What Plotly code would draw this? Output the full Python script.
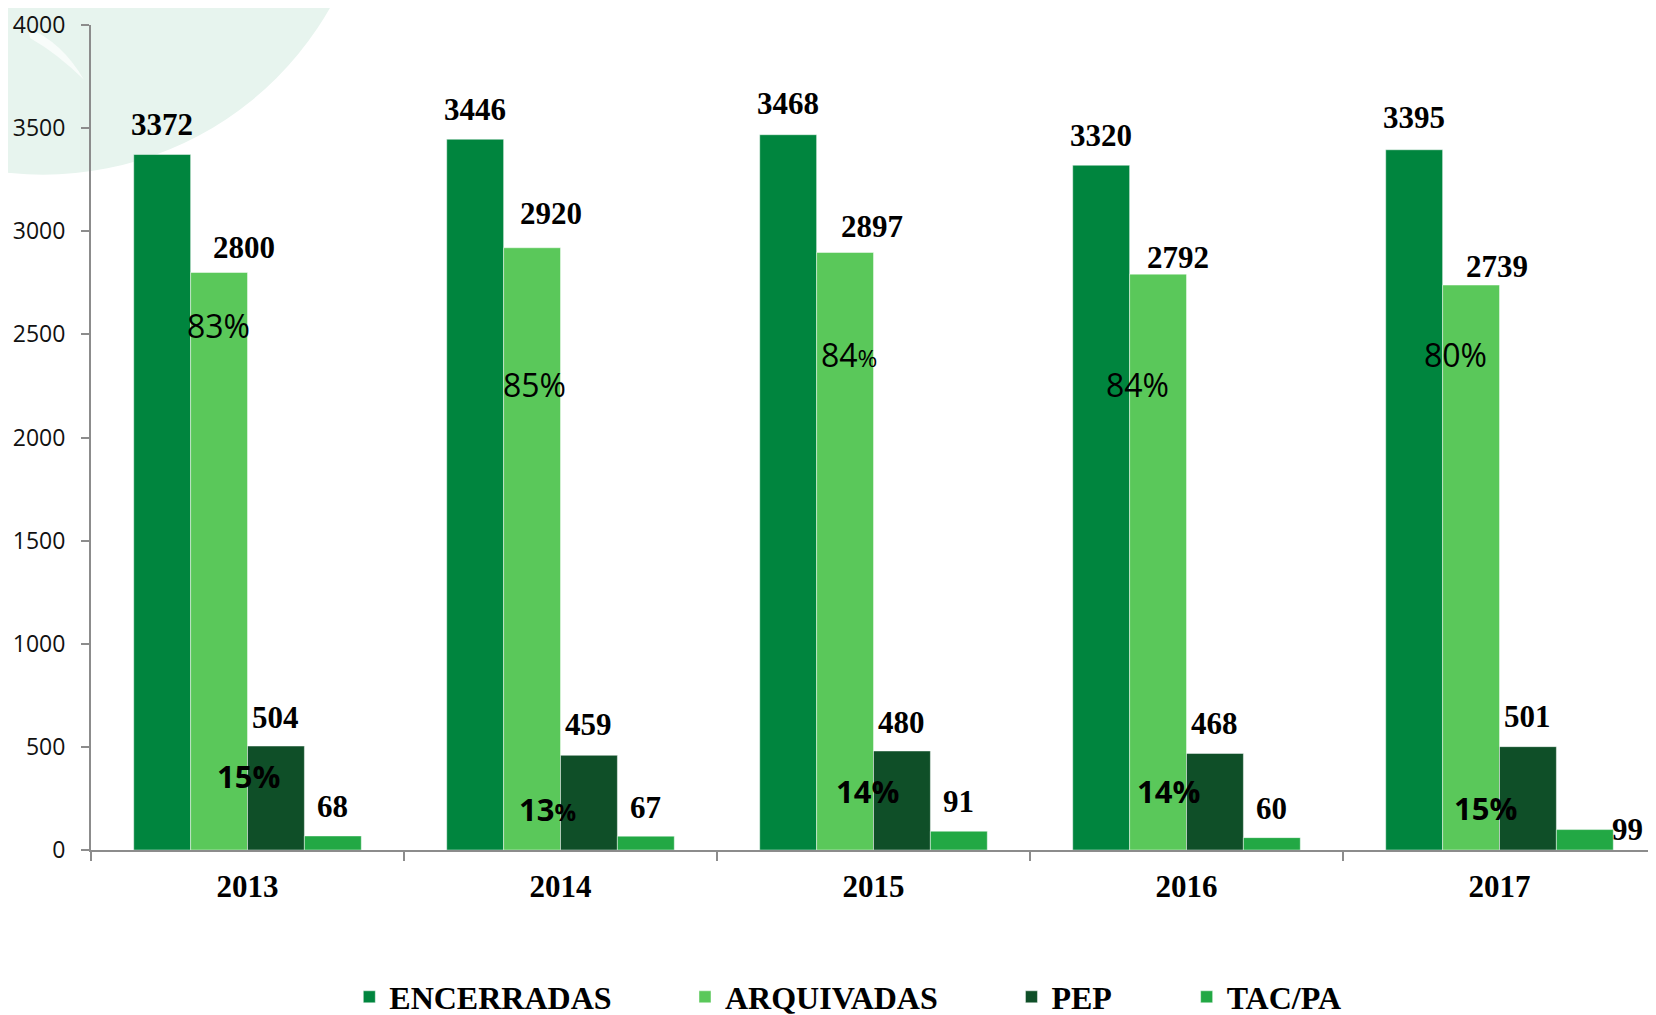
import plotly.graph_objects as go

# ---------------- data ----------------
years = ["2013", "2014", "2015", "2016", "2017"]
encerradas = [3372, 3446, 3468, 3320, 3395]
arquivadas = [2800, 2920, 2897, 2792, 2739]
pep = [504, 459, 480, 468, 501]
tac_pa = [68, 67, 91, 60, 99]
pct_arquivadas = ["83%", "85%", "84%", "84%", "80%"]
pct_pep = ["15%", "13%", "14%", "14%", "15%"]
y_ticks = [0, 500, 1000, 1500, 2000, 2500, 3000, 3500, 4000]
series_names = ["ENCERRADAS", "ARQUIVADAS", "PEP", "TAC/PA"]

# ---------------- styling / layout ----------------
colors = ["#00853e", "#5ac85a", "#0f4f28", "#22a844"]
PAGE_OFF = 8  # default page body margin
W, H = 1656 - PAGE_OFF, 1015 - PAGE_OFF
ML, MR, MT, MB = 83, 0, 15, 165
BARGAP = 0.273
SERIF = "Liberation Serif"
SANS = "Open Sans"
legend_x = [0.2071, 0.4108, 0.6089, 0.7152]
legend_y_px = 989

# label offsets (pixels) per series per year: horizontal and vertical (centre above bar top)
label_dx = [
    [0, 0, 0, 0, 0],
    [25, 19, 27, 20, 26],
    [0, 0, 0, 0, 0],
    [0, 0, 0, 0, 43],
]
label_dy = [
    [30, 30, 31, 30, 32],
    [25, 34, 26, 17, 19],
    [29, 31, 29, 30, 30],
    [29, 29, 30, 29, 0],
]
# percentage label placement (category offset, value-height)
pct_arq_dx = [-0.094, -0.082, -0.079, -0.155, -0.141]
pct_arq_y = [2544, 2258, 2401, 2258, 2401]
pct_pep_dx = [0.003, -0.042, -0.019, -0.057, -0.044]
pct_pep_y = [357, 199, 286, 286, 204]
small_pct_arq = [False, False, True, False, False]
small_pct_pep = [False, True, False, False, False]

series_values = [encerradas, arquivadas, pep, tac_pa]
legend_ids = ["legend", "legend2", "legend3", "legend4"]

fig = go.Figure()
for name, vals, col, lid in zip(series_names, series_values, colors, legend_ids):
    fig.add_trace(go.Bar(
        x=years, y=vals, name=name, legend=lid,
        marker=dict(color=col, line=dict(color="rgba(255,255,255,0.45)", width=1)),
        hoverinfo="x+y",
    ))

n_series = len(series_values)
bar_w = (1 - BARGAP) / n_series
offsets = [-(1 - BARGAP) / 2 + bar_w * (k + 0.5) for k in range(n_series)]

annotations = []
for k, vals in enumerate(series_values):
    for i, v in enumerate(vals):
        annotations.append(dict(
            x=i + offsets[k], y=v, xref="x", yref="y",
            text=f"<b>{v}</b>", showarrow=False,
            xanchor="center", yanchor="middle",
            xshift=label_dx[k][i], yshift=label_dy[k][i],
            font=dict(family=SERIF, size=31, color="#000000"),
        ))


def pct_text(t, small, bold):
    body = t[:-1]
    pc = '<span style="font-size:24px">%</span>' if small else "%"
    s = body + pc
    return f"<b>{s}</b>" if bold else s


for i in range(len(years)):
    annotations.append(dict(
        x=i + pct_arq_dx[i], y=pct_arq_y[i], xref="x", yref="y",
        text=pct_text(pct_arquivadas[i], small_pct_arq[i], False), showarrow=False,
        xanchor="center", yanchor="middle",
        font=dict(family=SANS, size=32, color="#000000"),
    ))
    annotations.append(dict(
        x=i + pct_pep_dx[i], y=pct_pep_y[i], xref="x", yref="y",
        text=pct_text(pct_pep[i], small_pct_pep[i], True), showarrow=False,
        xanchor="center", yanchor="middle",
        font=dict(family=SANS, size=31, color="#000000"),
    ))

# decorative watermark (top-left), given in page pixels
pw, ph = W - ML - MR, H - MT - MB


def px2paper_x(px):
    return (px - PAGE_OFF - ML) / pw


def px2paper_y(py):
    return (H - MB - (py - PAGE_OFF)) / ph


shapes = [
    dict(type="circle", xref="paper", yref="paper", layer="below",
         x0=px2paper_x(43 - 330), x1=px2paper_x(43 + 330),
         y0=px2paper_y(-157 + 330), y1=px2paper_y(-157 - 330),
         fillcolor="#e7f4ee", line=dict(width=0)),
]
crescent = [(28, 26), (62, 40), (84, 78), (58, 52), (30, 36)]
path = "M {},{} Q {},{} {},{} Q {},{} {},{} Z".format(
    px2paper_x(crescent[0][0]), px2paper_y(crescent[0][1]),
    px2paper_x(crescent[1][0]), px2paper_y(crescent[1][1]),
    px2paper_x(crescent[2][0]), px2paper_y(crescent[2][1]),
    px2paper_x(crescent[3][0]), px2paper_y(crescent[3][1]),
    px2paper_x(crescent[4][0]), px2paper_y(crescent[4][1]),
)
shapes.append(dict(type="path", xref="paper", yref="paper", layer="below",
                   path=path, fillcolor="rgba(255,255,255,0.7)", line=dict(width=0)))

layout_legends = {}
for lid, lx in zip(legend_ids, legend_x):
    layout_legends[lid] = dict(
        orientation="h", xref="container", yref="container",
        x=lx, y=(H - legend_y_px) / H, xanchor="left", yanchor="middle",
        font=dict(family=SERIF, size=32, color="#000000", weight="bold"),
        bgcolor="rgba(0,0,0,0)",
        itemclick=False, itemdoubleclick=False,
    )

fig.update_layout(
    width=W, height=H,
    margin=dict(l=ML, r=MR, t=MT, b=MB, pad=0),
    paper_bgcolor="white", plot_bgcolor="rgba(0,0,0,0)",
    barmode="group", bargap=BARGAP, bargroupgap=0,
    showlegend=True,
    annotations=annotations,
    shapes=shapes,
    xaxis=dict(
        type="category", categoryorder="array", categoryarray=years,
        range=[-0.5, len(years) - 0.5],
        tickson="boundaries", ticks="outside", ticklen=9, tickwidth=2, tickcolor="#8c8c8c",
        showline=True, linecolor="#8c8c8c", linewidth=2,
        showgrid=False, zeroline=False,
        tickfont=dict(family=SERIF, size=31, color="#000000", weight="bold"),
        ticklabelstandoff=8,
    ),
    yaxis=dict(
        range=[0, 4000], tickvals=y_ticks, ticktext=[str(t) for t in y_ticks],
        ticks="outside", ticklen=8, tickwidth=2, tickcolor="#8c8c8c",
        showline=True, linecolor="#8c8c8c", linewidth=2,
        showgrid=False, zeroline=False,
        tickfont=dict(family=SANS, size=23, color="#111111"),
        ticklabelstandoff=11, ticklabeloverflow="allow",
    ),
    font=dict(family=SANS),
    **layout_legends,
)

fig.write_html("out.html")
